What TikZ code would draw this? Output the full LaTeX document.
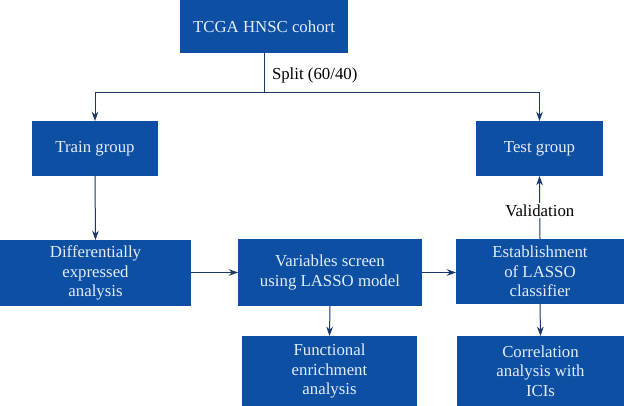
\documentclass[tikz,border=0pt]{standalone}
\usepackage{fontspec}
\setmainfont{Liberation Serif}
\usetikzlibrary{arrows.meta}
\definecolor{boxblue}{HTML}{0D4FA3}
\definecolor{boxtext}{HTML}{E3EDF8}
\definecolor{linenavy}{HTML}{1C3868}
\begin{document}
\begin{tikzpicture}[x=0.75pt,y=-0.75pt,inner sep=0pt,outer sep=0pt,
flowbox/.style={rectangle,fill=boxblue,text=boxtext,align=center,font=\fontsize{12.6}{14.8}\selectfont},
link/.style={draw=linenavy,line width=0.75pt,-{Stealth[length=7pt,width=5pt]}},
tag/.style={text=black,font=\fontsize{12.6}{14.8}\selectfont}]
\useasboundingbox (0,0) rectangle (624,406);
\draw (264,26.5) node[flowbox,minimum width=126pt,minimum height=39.75pt] (tcga) {TCGA HNSC cohort};
\draw (95,148.5) node[flowbox,minimum width=94.5pt,minimum height=41.25pt] (train) {Train group};
\draw (539.5,148.5) node[flowbox,minimum width=95.25pt,minimum height=41.25pt] (test) {Test group};
\draw (95.5,273) node[flowbox,minimum width=143.25pt,minimum height=49.5pt] (diff) {Differentially\\expressed\\analysis};
\draw (330,272.5) node[flowbox,minimum width=138pt,minimum height=50.25pt] (var) {Variables screen\\using LASSO model};
\draw (540,271.5) node[flowbox,minimum width=126pt,minimum height=48.75pt] (est) {Establishment\\of LASSO\\classifier};
\draw (329.5,371) node[flowbox,minimum width=131.25pt,minimum height=52.5pt] (func) {Functional\\enrichment\\analysis};
\draw (540.5,371) node[flowbox,minimum width=125.25pt,minimum height=52.5pt] (corr) {Correlation\\analysis with\\ICIs};

\coordinate (split) at (264,93);
\draw[link] (tcga.south) -- (split) -| (train.north);
\draw[link] (split) -| (test.north);
\draw (272,75) node[tag,anchor=west] (splitlbl) {Split (60/40)};
\draw[link] (train.south) -- (diff.north);
\draw[link] (diff.east |- var.west) -- (var.west);
\draw[link] (var.east) -- (est.west |- var.east);
\draw[link] (var.south) -- (func.north);
\draw[link] (est.south) -- (corr.north);
\draw[link] (est.north) -- (test.south) node[pos=0.45,tag,fill=white,inner sep=1pt] (valid) {Validation};
\end{tikzpicture}
\end{document}
